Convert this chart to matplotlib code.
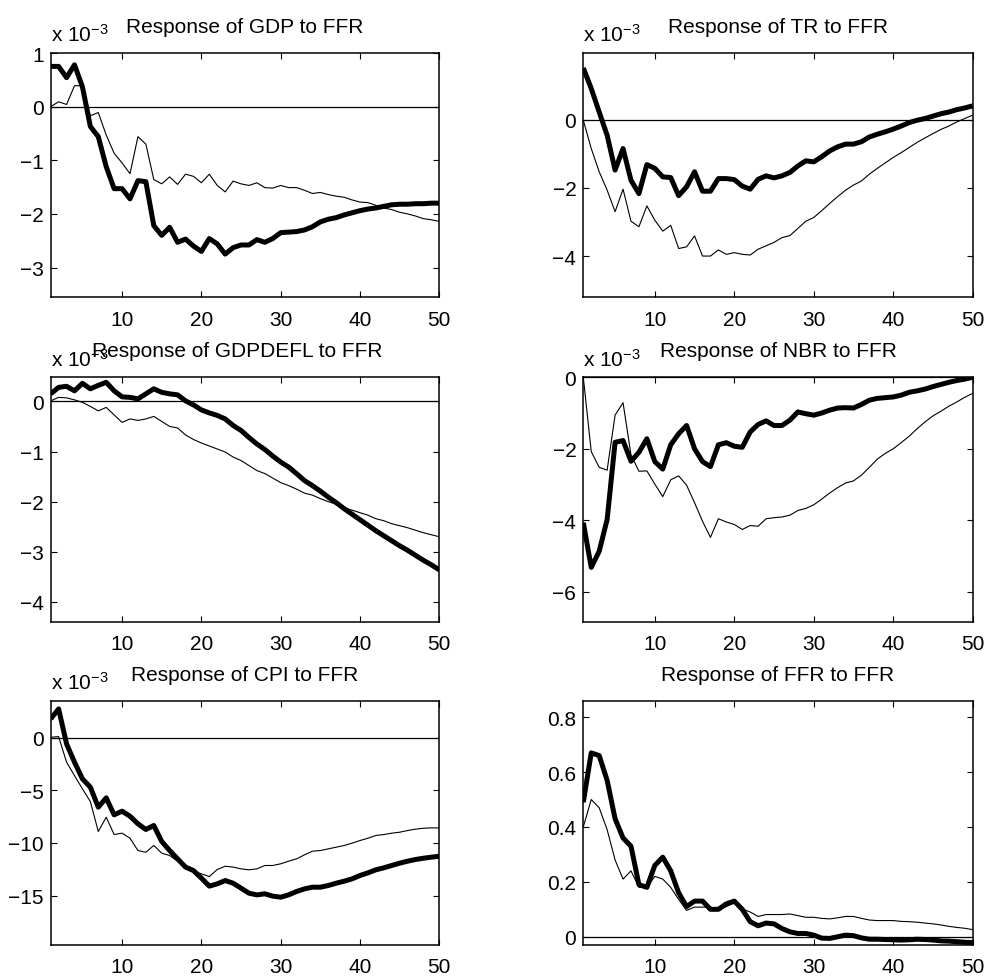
import numpy as np
import matplotlib
matplotlib.use("Agg")
import matplotlib.pyplot as plt

plt.rcParams['font.family'] = ['Liberation Sans', 'DejaVu Sans']
plt.rcParams['mathtext.fontset'] = 'custom'
plt.rcParams['mathtext.rm'] = 'Liberation Sans'
plt.rcParams['mathtext.it'] = 'Liberation Sans'
plt.rcParams['mathtext.bf'] = 'Liberation Sans'

horizon = np.arange(1, 51)
xticks = [10, 20, 30, 40, 50]

# values shown in units of 1e-3 for panels 1-5
gdp_thick = [0.75, 0.75, 0.54, 0.78, 0.37, -0.37, -0.56, -1.12, -1.53, -1.53,
             -1.72, -1.38, -1.40, -2.22, -2.40, -2.25, -2.53, -2.47, -2.60, -2.70,
             -2.46, -2.56, -2.75, -2.63, -2.58, -2.58, -2.48, -2.53, -2.46, -2.35,
             -2.34, -2.33, -2.30, -2.24, -2.15, -2.10, -2.07, -2.02, -1.98, -1.94,
             -1.91, -1.89, -1.86, -1.83, -1.82, -1.82, -1.81, -1.81, -1.80, -1.80]
gdp_thin = [0.00, 0.09, 0.04, 0.39, 0.39, -0.17, -0.11, -0.53, -0.87, -1.05,
            -1.25, -0.56, -0.70, -1.36, -1.44, -1.31, -1.45, -1.26, -1.30, -1.42,
            -1.26, -1.47, -1.59, -1.39, -1.44, -1.47, -1.42, -1.51, -1.52, -1.47,
            -1.51, -1.51, -1.56, -1.62, -1.60, -1.64, -1.67, -1.69, -1.74, -1.78,
            -1.79, -1.84, -1.89, -1.92, -1.97, -2.00, -2.04, -2.09, -2.11, -2.14]

tr_thick = [1.51, 0.91, 0.22, -0.46, -1.48, -0.85, -1.78, -2.17, -1.32, -1.43,
            -1.68, -1.70, -2.23, -1.97, -1.53, -2.10, -2.10, -1.73, -1.73, -1.76,
            -1.95, -2.04, -1.75, -1.65, -1.71, -1.65, -1.55, -1.36, -1.21, -1.24,
            -1.09, -0.92, -0.80, -0.72, -0.72, -0.65, -0.51, -0.43, -0.36, -0.28,
            -0.19, -0.09, -0.02, 0.03, 0.10, 0.17, 0.22, 0.29, 0.34, 0.40]
tr_thin = [-0.02, -0.85, -1.53, -2.07, -2.70, -2.04, -2.98, -3.14, -2.53, -2.95,
           -3.27, -3.10, -3.78, -3.73, -3.41, -4.00, -4.00, -3.82, -3.95, -3.90,
           -3.95, -3.97, -3.80, -3.70, -3.60, -3.46, -3.40, -3.19, -2.98, -2.87,
           -2.67, -2.46, -2.26, -2.07, -1.92, -1.80, -1.60, -1.43, -1.27, -1.11,
           -0.97, -0.82, -0.67, -0.54, -0.41, -0.29, -0.19, -0.07, 0.03, 0.13]

defl_thick = [0.15, 0.28, 0.30, 0.21, 0.36, 0.25, 0.32, 0.38, 0.21, 0.09,
              0.08, 0.05, 0.15, 0.25, 0.18, 0.15, 0.13, 0.01, -0.07, -0.17,
              -0.23, -0.28, -0.35, -0.48, -0.58, -0.72, -0.85, -0.96, -1.09, -1.21,
              -1.31, -1.44, -1.58, -1.68, -1.79, -1.91, -2.02, -2.14, -2.25, -2.36,
              -2.47, -2.58, -2.68, -2.78, -2.88, -2.97, -3.07, -3.17, -3.26, -3.36]
defl_thin = [0.01, 0.08, 0.07, 0.03, -0.02, -0.10, -0.19, -0.12, -0.27, -0.42,
             -0.35, -0.38, -0.35, -0.30, -0.40, -0.50, -0.53, -0.67, -0.76, -0.83,
             -0.89, -0.95, -1.01, -1.11, -1.18, -1.28, -1.38, -1.44, -1.53, -1.62,
             -1.68, -1.75, -1.83, -1.87, -1.94, -2.00, -2.05, -2.12, -2.17, -2.22,
             -2.27, -2.34, -2.38, -2.44, -2.48, -2.52, -2.57, -2.62, -2.66, -2.70]

nbr_thick = [-4.07, -5.32, -4.87, -3.98, -1.82, -1.77, -2.35, -2.10, -1.72, -2.36,
             -2.57, -1.89, -1.58, -1.35, -2.00, -2.36, -2.50, -1.89, -1.83, -1.93,
             -1.96, -1.53, -1.32, -1.22, -1.35, -1.35, -1.20, -0.97, -1.02, -1.06,
             -1.00, -0.92, -0.86, -0.85, -0.86, -0.76, -0.64, -0.59, -0.57, -0.55,
             -0.50, -0.42, -0.38, -0.33, -0.26, -0.20, -0.14, -0.09, -0.05, 0.00]
nbr_thin = [0.00, -2.08, -2.52, -2.60, -1.06, -0.71, -2.17, -2.63, -2.62, -2.99,
            -3.34, -2.87, -2.76, -3.02, -3.51, -4.03, -4.48, -3.96, -4.05, -4.12,
            -4.26, -4.15, -4.17, -3.96, -3.93, -3.91, -3.86, -3.73, -3.67, -3.57,
            -3.41, -3.24, -3.09, -2.96, -2.90, -2.74, -2.52, -2.29, -2.13, -2.00,
            -1.83, -1.65, -1.44, -1.25, -1.08, -0.95, -0.81, -0.69, -0.56, -0.45]

cpi_thick = [1.77, 2.72, -0.60, -2.34, -3.92, -4.71, -6.61, -5.73, -7.34, -6.99,
             -7.47, -8.19, -8.73, -8.35, -9.87, -10.73, -11.52, -12.30, -12.63, -13.35,
             -14.11, -13.89, -13.58, -13.83, -14.30, -14.78, -14.94, -14.84, -15.06, -15.16,
             -14.94, -14.62, -14.37, -14.21, -14.21, -14.05, -13.83, -13.64, -13.42, -13.10,
             -12.85, -12.56, -12.37, -12.15, -11.93, -11.74, -11.58, -11.46, -11.36, -11.27]
cpi_thin = [0.03, 0.09, -2.34, -3.61, -4.87, -6.08, -8.92, -7.56, -9.21, -9.08,
            -9.56, -10.73, -10.89, -10.25, -10.98, -11.20, -11.74, -12.30, -12.69, -12.94,
            -13.20, -12.53, -12.22, -12.30, -12.47, -12.56, -12.47, -12.15, -12.15, -11.99,
            -11.74, -11.52, -11.14, -10.79, -10.73, -10.57, -10.41, -10.25, -10.03, -9.78,
            -9.56, -9.30, -9.21, -9.08, -8.99, -8.83, -8.70, -8.61, -8.58, -8.58]

ffr_thick = [0.49, 0.67, 0.66, 0.57, 0.43, 0.36, 0.33, 0.19, 0.18, 0.26,
             0.29, 0.24, 0.16, 0.11, 0.13, 0.13, 0.10, 0.10, 0.12, 0.13,
             0.10, 0.055, 0.04, 0.05, 0.047, 0.03, 0.018, 0.012, 0.012, 0.006,
             -0.005, -0.006, 0.0, 0.006, 0.004, -0.004, -0.009, -0.009, -0.010, -0.011,
             -0.012, -0.011, -0.009, -0.010, -0.012, -0.015, -0.016, -0.018, -0.020, -0.021]
ffr_thin = [0.40, 0.50, 0.47, 0.39, 0.28, 0.21, 0.24, 0.18, 0.18, 0.22,
            0.21, 0.18, 0.136, 0.096, 0.108, 0.108, 0.108, 0.10, 0.11, 0.123,
            0.102, 0.09, 0.074, 0.081, 0.081, 0.081, 0.083, 0.077, 0.071, 0.071,
            0.067, 0.065, 0.069, 0.074, 0.074, 0.067, 0.061, 0.059, 0.059, 0.059,
            0.056, 0.055, 0.053, 0.050, 0.047, 0.043, 0.038, 0.034, 0.031, 0.026]

titles = ["Response of GDP to FFR", "Response of TR to FFR",
          "Response of GDPDEFL to FFR", "Response of NBR to FFR",
          "Response of CPI to FFR", "Response of FFR to FFR"]
thick_series = [gdp_thick, tr_thick, defl_thick, nbr_thick, cpi_thick, ffr_thick]
thin_series = [gdp_thin, tr_thin, defl_thin, nbr_thin, cpi_thin, ffr_thin]
ylims = [(-3.55, 1.0), (-5.2, 1.95), (-4.4, 0.48), (-6.85, 0.0), (-19.7, 3.5), (-0.03, 0.86)]
yticks = [[-3, -2, -1, 0, 1], [-4, -2, 0], [-4, -3, -2, -1, 0], [-6, -4, -2, 0],
          [-15, -10, -5, 0], [0, 0.2, 0.4, 0.6, 0.8]]
ytick_labels = [None, None, None, None, None, ["0", "0.2", "0.4", "0.6", "0.8"]]
multiplier = [r"x 10$^{-3}$"] * 5 + [None]
title_x = [0.5, 0.5, 0.479, 0.5, 0.5, 0.5]

W, H = 985, 979
fig = plt.figure(figsize=(W / 100, H / 100), dpi=100)

col_left = [50.7, 583.3]
col_width = [388.6, 389.4]
row_top = [54.0, 378.3, 701.7]
row_bot = [298.0, 623.0, 946.0]

FS = 15
for i in range(6):
    r, c = divmod(i, 2)
    ax = fig.add_axes([col_left[c] / W, 1 - row_bot[r] / H,
                       col_width[c] / W, (row_bot[r] - row_top[r]) / H])
    ax.axhline(0, color='black', lw=0.9, zorder=1)
    ax.plot(horizon, thin_series[i], color='black', lw=0.8, zorder=2)
    ax.plot(horizon, thick_series[i], color='black', lw=3.6, zorder=3,
            solid_joinstyle='round', solid_capstyle='butt')
    ax.set_xlim(1, 50)
    ax.set_ylim(*ylims[i])
    ax.set_xticks(xticks)
    ax.set_yticks(yticks[i])
    if ytick_labels[i] is not None:
        ax.set_yticklabels(ytick_labels[i])
    ax.tick_params(direction='in', top=True, right=True, length=4, width=0.8,
                   labelsize=FS)
    ax.tick_params(axis='x', pad=9)
    ax.tick_params(axis='y', pad=5)
    for s in ax.spines.values():
        s.set_linewidth(1.1)
    ax.set_title(titles[i], fontsize=FS, pad=15, x=title_x[i])
    if multiplier[i] is not None:
        ax.annotate(multiplier[i], xy=(0, 1), xycoords='axes fraction',
                    xytext=(0, 8.5), textcoords='offset points',
                    ha='left', va='baseline', fontsize=FS, zorder=1)

fig.savefig("out.png", dpi=100, facecolor='white')
